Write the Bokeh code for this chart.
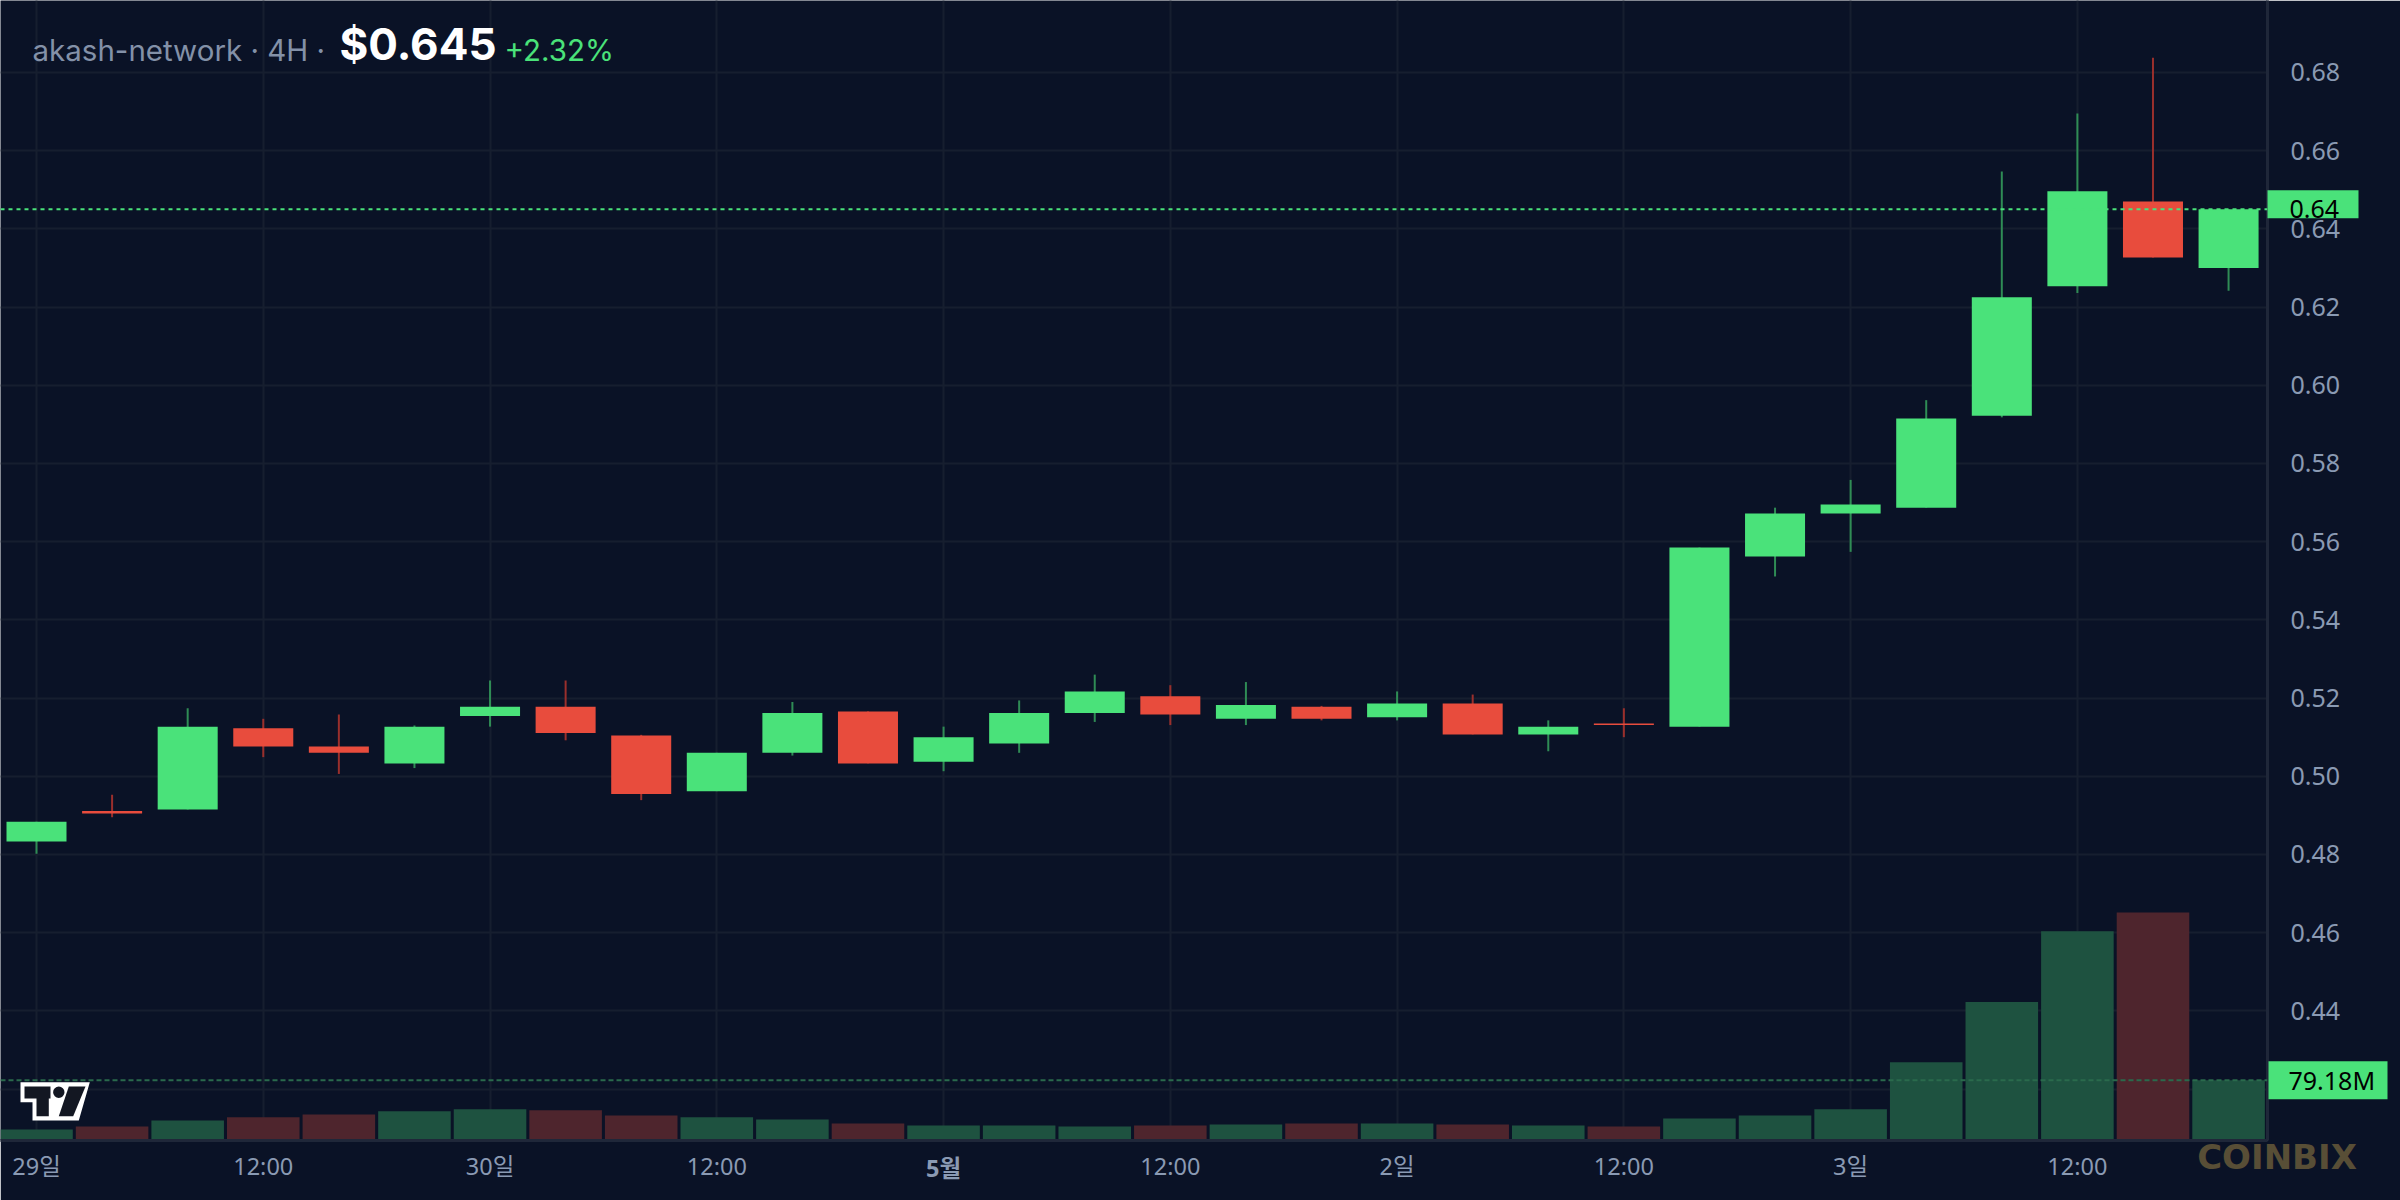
from bokeh.plotting import figure
from bokeh.models import Range1d, FixedTicker, Label, Span, PrintfTickFormatter
from bokeh.embed import file_html
from bokeh.resources import INLINE
from bokeh.core.properties import value

# ---------------- data ----------------
open_ = [0.4833, 0.4911, 0.4915, 0.5123, 0.5076, 0.5033, 0.5154, 0.5178, 0.5104, 0.4962,
         0.5060, 0.5166, 0.5037, 0.5084, 0.5162, 0.5205, 0.5147, 0.5178, 0.5151, 0.5186,
         0.5107, 0.5135, 0.5127, 0.5562, 0.5672, 0.5687, 0.5922, 0.6253, 0.6470, 0.6300]
high = [0.4884, 0.4953, 0.5174, 0.5147, 0.5158, 0.5130, 0.5245, 0.5245, 0.5106, 0.5060,
        0.5190, 0.5166, 0.5127, 0.5194, 0.5260, 0.5233, 0.5241, 0.5180, 0.5217, 0.5209,
        0.5143, 0.5174, 0.5585, 0.5687, 0.5758, 0.5962, 0.6547, 0.6695, 0.6838, 0.6450]
low = [0.4802, 0.4895, 0.4915, 0.5049, 0.5006, 0.5021, 0.5127, 0.5092, 0.4939, 0.4962,
       0.5053, 0.5033, 0.5013, 0.5060, 0.5139, 0.5131, 0.5131, 0.5143, 0.5143, 0.5107,
       0.5064, 0.5100, 0.5127, 0.5511, 0.5574, 0.5687, 0.5918, 0.6236, 0.6327, 0.6242]
close = [0.4884, 0.4905, 0.5127, 0.5076, 0.5060, 0.5127, 0.5178, 0.5111, 0.4955, 0.5060,
         0.5162, 0.5033, 0.5100, 0.5162, 0.5217, 0.5158, 0.5182, 0.5147, 0.5186, 0.5107,
         0.5127, 0.5131, 0.5585, 0.5672, 0.5695, 0.5915, 0.6225, 0.6496, 0.6327, 0.6450]
volume_m = [14.5, 18.5, 26.4, 30.4, 34.3, 38.3, 40.9, 39.6, 33.0, 30.4,
            27.7, 22.4, 19.8, 19.8, 18.5, 19.8, 21.1, 22.4, 22.4, 21.1,
            19.8, 18.5, 29.0, 33.0, 40.9, 102.9, 182.1, 275.0, 299.6, 79.18]

x_tick_idx = [0, 3, 6, 9, 12, 15, 18, 21, 24, 27]
x_tick_labels = ["29일", "12:00", "30일", "12:00", "5월", "12:00", "2일", "12:00", "3일", "12:00"]
y_ticks = [0.42, 0.44, 0.46, 0.48, 0.50, 0.52, 0.54, 0.56, 0.58, 0.60, 0.62, 0.64, 0.66, 0.68]

symbol = "akash-network"
interval = "4H"
last_price_text = "$0.645"
change_text = "+2.32%"
last_price = 0.645
last_price_label = "0.64"
last_volume_label = "79.18M"
watermark = "COINBIX"

# ---------------- style ----------------
BG = "#0a1226"
GRID = "#161e2f"
AXIS_LINE = "#1f2739"
TICK_TXT = "#8a9ab3"
UP = "#4ae27a"
DOWN = "#e84c3d"
UP_WICK = "#2f8c55"
DOWN_WICK = "#9a2f2c"
VOL_UP = "#1e5240"
VOL_DOWN = "#4e252d"
AX_FONT = "Noto Sans, Noto Sans CJK KR"

W, H = 2400, 1200
FRAME_W, FRAME_H = 2267, 1140
X0, X1 = -0.4763, 29.515
Y0, Y1 = 0.40685, 0.69841
VOL_END = max(volume_m) / 0.2


def dx(px):
    return X0 + px / FRAME_W * (X1 - X0)


def dy(py):
    return Y1 - py / FRAME_H * (Y1 - Y0)


def vpx(npx):
    # pixel height -> volume units
    return npx / FRAME_H * VOL_END


p = figure(width=W, height=H, output_backend="svg", toolbar_location=None,
           x_range=Range1d(X0, X1), y_range=Range1d(Y0, Y1),
           y_axis_location="right", tools="")
p.min_border_left = 0
p.min_border_top = 0
p.min_border_right = W - FRAME_W
p.min_border_bottom = H - FRAME_H
p.background_fill_color = BG
p.border_fill_color = BG
p.outline_line_color = None

p.extra_y_ranges = {"vol": Range1d(0, VOL_END)}

# grids
p.xgrid.ticker = FixedTicker(ticks=x_tick_idx)
p.ygrid.ticker = FixedTicker(ticks=y_ticks)
p.xgrid.grid_line_color = GRID
p.ygrid.grid_line_color = GRID
p.xgrid.grid_line_width = 2
p.ygrid.grid_line_width = 2

# axes
xa = p.xaxis[0]
xa.ticker = FixedTicker(ticks=x_tick_idx)
ov = {i: t for i, t in zip(x_tick_idx, x_tick_labels)}
ov[12] = ""
xa.major_label_overrides = ov
xa.axis_line_color = AXIS_LINE
xa.axis_line_width = 3
xa.major_tick_line_color = None
xa.minor_tick_line_color = None
xa.major_label_text_color = TICK_TXT
xa.major_label_text_font = AX_FONT
xa.major_label_text_font_size = "23.5px"
xa.major_label_standoff = 3

ya = p.yaxis[0]
ya.ticker = FixedTicker(ticks=y_ticks)
ya.formatter = PrintfTickFormatter(format="%.2f")
ya.major_label_overrides = {0.42: ""}
ya.axis_line_color = AXIS_LINE
ya.axis_line_width = 3
ya.major_tick_line_color = None
ya.minor_tick_line_color = None
ya.major_label_text_color = TICK_TXT
ya.major_label_text_font = AX_FONT
ya.major_label_text_font_size = "25px"
ya.major_label_standoff = 17

# volume
idx = list(range(len(open_)))
up = [c >= o for o, c in zip(open_, close)]
vol_colors = [VOL_UP if u else VOL_DOWN for u in up]
p.vbar(x=idx, top=volume_m, bottom=0, width=0.96, fill_color=vol_colors,
       line_color=None, y_range_name="vol")
p.add_layout(Span(location=volume_m[-1], dimension="width", y_range_name="vol",
                  line_color="#2a6a4c", line_dash="5 3", line_width=2))

# candles
wick_colors = [UP_WICK if u else DOWN_WICK for u in up]
body_colors = [UP if u else DOWN for u in up]
p.segment(x0=idx, x1=idx, y0=low, y1=high, line_color=wick_colors, line_width=2)
p.vbar(x=idx, top=[max(o, c) for o, c in zip(open_, close)],
       bottom=[min(o, c) for o, c in zip(open_, close)],
       width=0.794, fill_color=body_colors, line_color=None)

# last price line
p.add_layout(Span(location=last_price, dimension="width", line_color=UP,
                  line_dash="4 4", line_width=2))

# TradingView logo
logo_outer_x = [20, 89.3, 78.3, 32, 32, 20]
logo_outer_y = [1081.7, 1081.7, 1120, 1120, 1101.7, 1101.7]
p.patch([dx(v) for v in logo_outer_x], [dy(v) for v in logo_outer_y],
        fill_color="white", line_color=None)
t_x = [24, 50, 50, 48.3, 48.3, 36, 36, 24]
t_y = [1086, 1086, 1098, 1098, 1115.7, 1115.7, 1098, 1098]
p.patch([dx(v) for v in t_x], [dy(v) for v in t_y], fill_color="#131722", line_color=None)
s_x = [68.3, 85, 72.7, 58.3]
s_y = [1086, 1086, 1115.7, 1115.7]
p.patch([dx(v) for v in s_x], [dy(v) for v in s_y], fill_color="#131722", line_color=None)
p.ellipse(x=[dx(58.3)], y=[dy(1091.7)], width=dx(11.4) - dx(0), height=dy(0) - dy(11.4),
          fill_color="#131722", line_color=None)

# header
p.add_layout(Label(x=dx(32), y=dy(49.5), text=f"{symbol} · {interval} ·",
                   text_font="Inter", text_font_size="29.5px", text_color="#8391a8",
                   text_baseline="alphabetic"))
p.add_layout(Label(x=dx(339), y=dy(43), text=last_price_text,
                   text_font="Inter", text_font_size="44px", text_font_style="bold",
                   text_color="white", text_baseline="alphabetic"))
p.add_layout(Label(x=dx(504), y=dy(49.5), text=change_text,
                   text_font="Inter", text_font_size="29.5px", text_color=UP,
                   text_baseline="alphabetic"))

# ---- marks outside the frame (overlay level, not clipped) ----
# bold month label
p.text(x=[x_tick_idx[4]], y=[dy(1167.7)], text=[x_tick_labels[4]], level="overlay",
       text_align="center", text_baseline="middle", text_font=value(AX_FONT),
       text_font_size="23.5px", text_font_style="bold", text_color=TICK_TXT)

# price label box
p.quad(left=[dx(2267)], right=[dx(2358)], top=[last_price + (dy(190) - dy(209))],
       bottom=[last_price - (dy(209) - dy(218))], level="overlay",
       fill_color=UP, line_color=None)
p.text(x=[dx(2289)], y=[last_price], text=[last_price_label], level="overlay",
       text_align="left", text_baseline="middle", text_font=value(AX_FONT),
       text_font_size="25px", text_color="black")

# volume label box
p.quad(left=[dx(2268)], right=[dx(2387)], top=[volume_m[-1] + vpx(19)],
       bottom=[volume_m[-1] - vpx(19)], level="overlay", y_range_name="vol",
       fill_color=UP, line_color=None)
p.text(x=[dx(2288)], y=[volume_m[-1]], text=[last_volume_label], level="overlay",
       y_range_name="vol", text_align="left", text_baseline="middle",
       text_font=value(AX_FONT), text_font_size="25px", text_color="black")

# watermark
p.text(x=[dx(2276.5)], y=[dy(1156.5)], text=[watermark], level="overlay",
       text_align="center", text_baseline="middle", text_font=value("DejaVu Sans"),
       text_font_size="34px", text_font_style="bold", text_color="#584e36")

open("out.html", "w").write(file_html(p, INLINE))
